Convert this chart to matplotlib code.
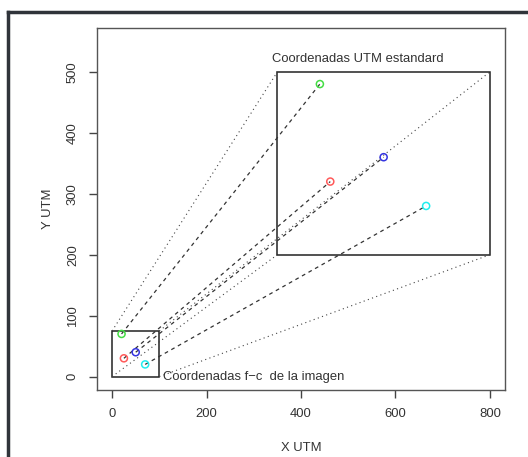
import matplotlib
matplotlib.use("Agg")
import matplotlib.pyplot as plt
from matplotlib.lines import Line2D
from matplotlib.patches import Rectangle

plt.rcParams['font.family'] = ['Liberation Sans', 'DejaVu Sans']

# image (f-c) box and UTM box
img_box = [0, 0, 100, 75]          # x0, y0, width, height
utm_box = [350, 200, 450, 300]

# control points: image coords and UTM coords
colores = ['#44dd44', '#ff5a5a', '#3535e0', '#22eeee']
img_x = [20, 25, 50, 70]
img_y = [70, 30, 40, 20]
utm_x = [440, 462, 575, 665]
utm_y = [480, 320, 360, 280]

x_ticks = [0, 200, 400, 600, 800]
y_ticks = [0, 100, 200, 300, 400, 500]

fig = plt.figure(figsize=(5.28, 4.57), dpi=100)
ax = fig.add_axes([97/528, 1-390/457, (505-97)/528, (390-28)/457])

# dotted lines joining matching corners
bx0, by0, bw, bh = img_box
ux0, uy0, uw, uh = utm_box
esq_img = [(bx0, by0), (bx0+bw, by0), (bx0, by0+bh), (bx0+bw, by0+bh)]
esq_utm = [(ux0, uy0), (ux0+uw, uy0), (ux0, uy0+uh), (ux0+uw, uy0+uh)]
for (a, b), (c, d) in zip(esq_img, esq_utm):
    ax.plot([a, c], [b, d], color='#444444', lw=0.8, linestyle=(0, (1, 3)))

# dashed lines from image points to UTM points
for i in range(len(img_x)):
    ax.plot([img_x[i], utm_x[i]], [img_y[i], utm_y[i]], color='#333333',
            lw=0.9, linestyle=(0, (3, 3)))

ax.add_patch(Rectangle((bx0, by0), bw, bh, fill=False, ec='#222222', lw=1.1))
ax.add_patch(Rectangle((ux0, uy0), uw, uh, fill=False, ec='#222222', lw=1.1))

ax.scatter(img_x, img_y, s=26, facecolors='none', edgecolors=colores, lw=1.1, zorder=5)
ax.scatter(utm_x, utm_y, s=26, facecolors='none', edgecolors=colores, lw=1.1, zorder=5)

ax.text(338, 521, 'Coordenadas UTM estandard', fontsize=9.4, color='#333333',
        ha='left', va='center')
ax.text(108, 0, 'Coordenadas f\u2212c  de la imagen', fontsize=9.4, color='#333333',
        ha='left', va='center')

ax.set_xlim(-32, 832)
ax.set_ylim(-22, 572)
ax.set_xticks(x_ticks)
ax.set_yticks(y_ticks)
ax.set_yticklabels([str(v) for v in y_ticks], rotation=90, va='center')
ax.tick_params(direction='out', length=6, width=1, colors='#444444',
               labelcolor='#333333', labelsize=9.4, pad=7)
for s in ax.spines.values():
    s.set_color('#555555')
    s.set_linewidth(1)
ax.set_xlabel('X UTM', fontsize=9.4, color='#333333', labelpad=16)
ax.set_ylabel('Y UTM', fontsize=9.4, color='#333333', labelpad=9)

# window frame of the screenshot
fig.add_artist(Line2D([8/528, 8/528], [0, 1-12/457], color='#30343a', lw=2.5))
fig.add_artist(Line2D([8/528, 1], [1-12/457, 1-12/457], color='#30343a', lw=2.5))

fig.savefig('out.png', dpi=100)
